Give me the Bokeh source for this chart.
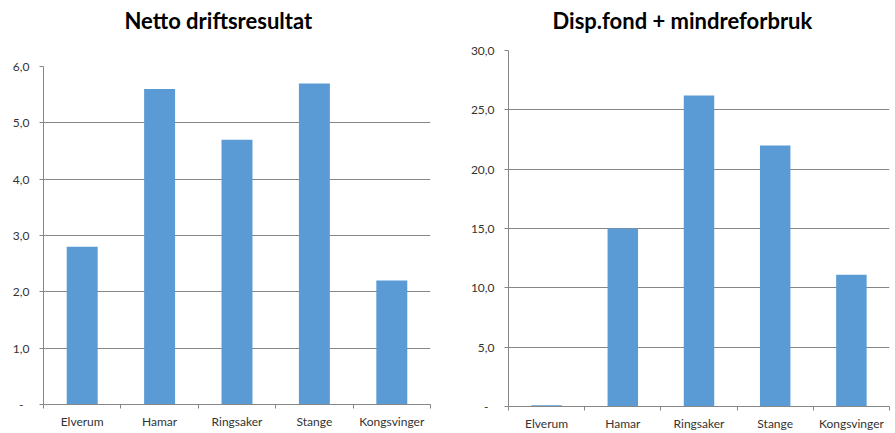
import numpy as np
from bokeh.plotting import figure
from bokeh.layouts import row, column
from bokeh.models import FixedTicker, Title
from bokeh.embed import file_html
from bokeh.resources import INLINE

categories = ["Elverum", "Hamar", "Ringsaker", "Stange", "Kongsvinger"]
netto_driftsresultat = [2.8, 5.6, 4.7, 5.7, 2.2]
disp_fond = [0.1, 15.0, 26.2, 22.0, 11.1]
left_title = "Netto driftsresultat"
right_title = "Disp.fond + mindreforbruk"
left_yticks = [0, 1, 2, 3, 4, 5, 6]
right_yticks = [0, 5, 10, 15, 20, 25, 30]

BAR = "#5B9BD5"
GRID = "#868686"
TXT = "#333333"
FONT = "Lato"


def fmt(v):
    if v == 0:
        return "-\u00a0\u00a0"
    return ("%.1f" % v).replace(".", ",")


def make(values, yticks, title, width, mbl, mbr, mbt, mbb, toff, gap):
    n = len(categories)
    xs = np.arange(n) + 0.5
    p = figure(width=width, height=433, output_backend="svg", toolbar_location=None,
               x_range=(0, n), y_range=(yticks[0], yticks[-1]),
               min_border_left=mbl, min_border_right=mbr, min_border_top=mbt,
               min_border_bottom=mbb)
    p.title = None
    # spacer between frame and title
    p.add_layout(Title(text="\u00a0", text_font_size="2px", standoff=gap,
                       text_color="white"), "above")
    p.add_layout(Title(text=title, align="left", offset=toff, standoff=8,
                       text_font=FONT, text_font_size="22px", text_font_style="bold",
                       text_color="#000000"), "above")
    p.vbar(x=xs, top=values, width=0.4, bottom=0, fill_color=BAR, line_color=None)
    p.outline_line_color = None
    p.background_fill_color = "white"
    p.border_fill_color = "white"

    # x axis
    xa = p.xaxis[0]
    xa.ticker = FixedTicker(ticks=list(xs), minor_ticks=list(range(n + 1)))
    xa.major_label_overrides = {float(x): c for x, c in zip(xs, categories)}
    xa.major_tick_out = 0
    xa.major_tick_in = 0
    xa.minor_tick_out = 4
    xa.minor_tick_in = 0
    xa.minor_tick_line_color = GRID
    xa.axis_line_color = GRID
    xa.major_label_text_font = FONT
    xa.major_label_text_font_size = "12px"
    xa.major_label_text_color = TXT
    xa.major_label_standoff = 5

    # y axis
    ya = p.yaxis[0]
    ya.ticker = FixedTicker(ticks=yticks)
    ya.major_label_overrides = {t: fmt(t) for t in yticks}
    ya.major_tick_out = 4
    ya.major_tick_in = 0
    ya.minor_tick_line_color = None
    ya.major_tick_line_color = GRID
    ya.axis_line_color = GRID
    ya.major_label_text_font = FONT
    ya.major_label_text_font_size = "12px"
    ya.major_label_text_color = TXT
    ya.major_label_standoff = 10

    p.xgrid.grid_line_color = None
    p.ygrid.grid_line_color = GRID
    p.ygrid.grid_line_width = 1
    p.ygrid.ticker = FixedTicker(ticks=yticks)
    return p


p1 = make(netto_driftsresultat, left_yticks, left_title, 440, 43, 10, 66, 29, 81, 25)
p2 = make(disp_fond, right_yticks, right_title, 455, 68, 6, 50, 27, 44, 9)

layout = row(column(p1), column(p2))
open("out.html", "w").write(file_html(layout, INLINE))
